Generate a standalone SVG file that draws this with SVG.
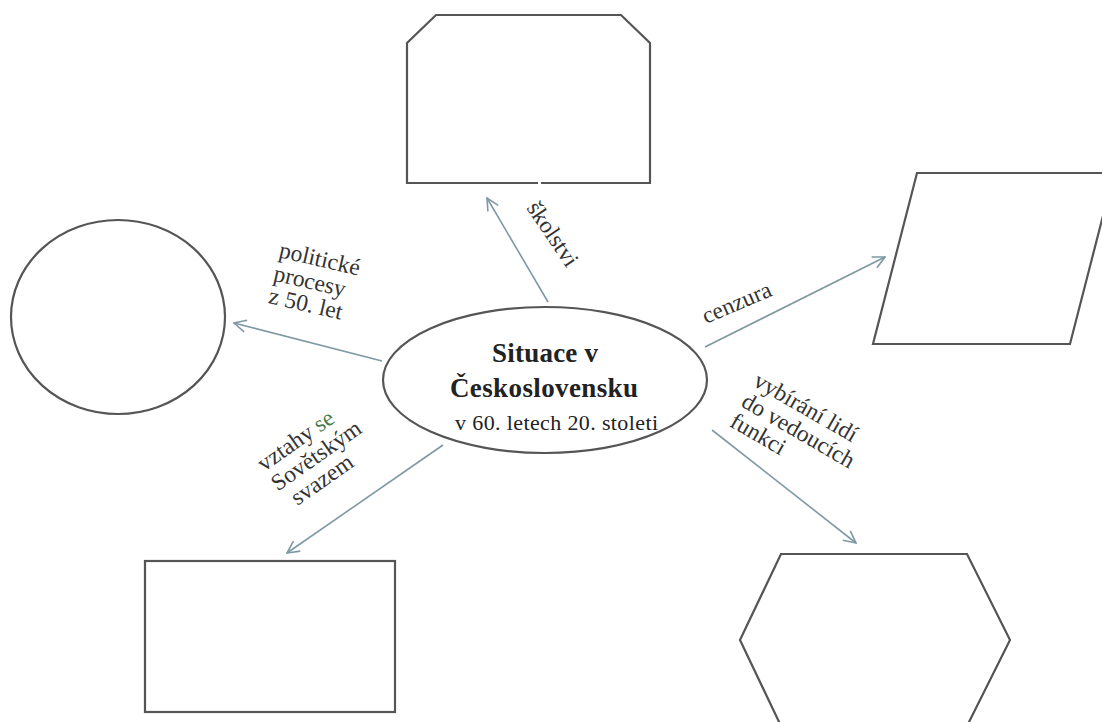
<svg xmlns="http://www.w3.org/2000/svg" width="1102" height="722" viewBox="0 0 1102 722">
<style>
.shape{fill:none;stroke:#555;stroke-width:2.2}
.conn{stroke:#7f99a4;stroke-width:1.6;fill:none}
.lbl{font-family:"Liberation Serif","Times New Roman",serif;font-size:23.5px;fill:#333}
.title{font-family:"Liberation Serif","Times New Roman",serif;font-size:27px;font-weight:bold;fill:#222}
.sub{font-family:"Liberation Serif","Times New Roman",serif;font-size:22px;fill:#222}
</style>
<defs>
<marker id="arr" viewBox="0 0 14 14" refX="13" refY="7" markerWidth="14" markerHeight="14" markerUnits="userSpaceOnUse" orient="auto">
<path d="M1,1 L13,7 L1,13" fill="none" stroke="#7f99a4" stroke-width="1.6"/>
</marker>
</defs>
<rect width="1102" height="722" fill="#fff"/>
<g id="connectors">
<line class="conn" x1="382" y1="361" x2="234" y2="323" marker-end="url(#arr)"/>
<line class="conn" x1="548" y1="302" x2="487" y2="198" marker-end="url(#arr)"/>
<line class="conn" x1="705" y1="347" x2="885" y2="257" marker-end="url(#arr)"/>
<line class="conn" x1="443" y1="445" x2="287" y2="553" marker-end="url(#arr)"/>
<line class="conn" x1="712" y1="430" x2="856" y2="543" marker-end="url(#arr)"/>
</g>
<g id="center">
<ellipse class="shape" cx="545" cy="380" rx="162" ry="73"/>
<text class="title" x="545" y="362" text-anchor="middle" textLength="106">Situace v</text>
<text class="title" x="544" y="397" text-anchor="middle" textLength="188">Československu</text>
<text class="sub" x="455" y="430" textLength="203">v 60. letech  20. stoleti</text>
</g>
<g id="circle-node">
<ellipse class="shape" cx="118" cy="317" rx="107" ry="97"/>
</g>
<g id="top-node">
<path class="shape" d="M541,183 H650 V43 L621,15 H436 L407,43 V183 H538"/>
</g>
<g id="parallelogram-node">
<polygon class="shape" points="917,173 1114,173 1070,344 873,344"/>
</g>
<g id="rect-node">
<rect class="shape" x="145" y="561" width="250" height="151"/>
</g>
<g id="hexagon-node">
<polygon class="shape" points="781,554 967,554 1010,640 967,726 781,726 740,640"/>
</g>
<g id="labels">
<text class="lbl" transform="translate(278,257) rotate(13)"><tspan x="0" y="0">politické</tspan><tspan x="0" y="24">procesy</tspan><tspan x="0" y="47">z 50. let</tspan></text>
<text class="lbl" transform="translate(526,208) rotate(56)">školstvi</text>
<text class="lbl" transform="translate(706,324) rotate(-23)">cenzura</text>
<text class="lbl" transform="translate(752,385) rotate(30)"><tspan x="0" y="0">vybírání lidí</tspan><tspan x="0" y="24">do vedoucích</tspan><tspan x="0" y="47">funkci</tspan></text>
<text class="lbl" transform="translate(264,472) rotate(-35)"><tspan x="0" y="0">vztahy <tspan fill="#4a7a4a">se</tspan></tspan><tspan x="0" y="24">Sovětským</tspan><tspan x="8" y="47">svazem</tspan></text>
</g>
</svg>
